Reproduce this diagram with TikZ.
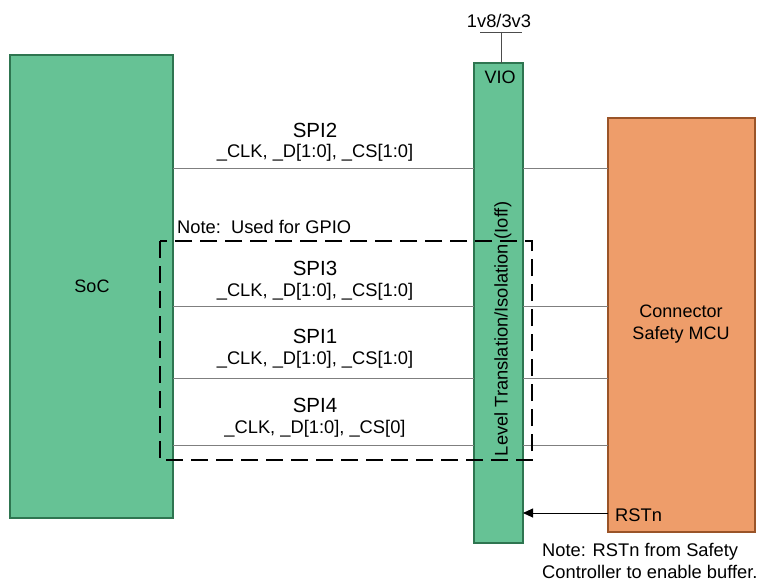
\documentclass[tikz,border=0pt]{standalone}
\usepackage{fontspec}
\setmainfont{Liberation Sans}
\usetikzlibrary{arrows.meta}
\definecolor{boxgreen}{HTML}{66C295}
\definecolor{edgegreen}{HTML}{2E7550}
\definecolor{boxorange}{HTML}{EE9D6A}
\definecolor{edgebrown}{HTML}{9A5428}
\definecolor{wire}{HTML}{7F7F7F}
\tikzset{
  greenbox/.style={draw=edgegreen, fill=boxgreen, line width=1.6pt, inner sep=0pt},
  orangebox/.style={draw=edgebrown, fill=boxorange, line width=1.6pt, inner sep=0pt},
  sig/.style={draw=wire, line width=0.8pt},
  big/.style={font=\fontsize{20.5}{23}\selectfont, inner sep=0pt},
  mid/.style={font=\fontsize{18}{22}\selectfont, inner sep=0pt},
  small/.style={font=\fontsize{18.3}{21.5}\selectfont, inner sep=0pt},
  gpio/.style={draw=black, line width=2.2pt, dash pattern=on 17pt off 8pt},
}
\begin{document}
\begin{tikzpicture}[x=1pt,y=-1pt]
\useasboundingbox (0,0) rectangle (762,583);
% boxes
\path[greenbox] (10,55) rectangle (173,518);
\node[mid] (soc) at (92,286) {SoC};
\path[greenbox] (474,63) rectangle (523,543);
\node[mid] (vio) at (500,77) {VIO};
\node[small, rotate=90] (lt) at (503,329) {Level Translation/Isolation (Ioff)};
\path[orangebox] (608,118) rectangle (755,532);
\node[mid, align=center] (mcu) at (681,324) {Connector\\Safety MCU};
% supply
\node[small] (sup) at (499,21) {1v8/3v3};
\coordinate (supl) at (480,32);
\coordinate (supr) at (522,32);
\coordinate (supm) at (501,32);
\coordinate (viotop) at (501,63);
\draw[sig, draw=black!70] (supl) -- (supr);
\draw[sig, draw=black!70] (supm) -- (viotop);
% signals
\foreach \n/\y/\sy/\sub in {a/168/153/{\_CLK, \_D[1:0], \_CS[1:0]},
                            b/306/292/{\_CLK, \_D[1:0], \_CS[1:0]},
                            c/378/360/{\_CLK, \_D[1:0], \_CS[1:0]},
                            d/445/429/{\_CLK, \_D[1:0], \_CS[0]}}{
  \coordinate (s\n1) at (173,\y);
  \coordinate (s\n2) at (474,\y);
  \coordinate (s\n3) at (523,\y);
  \coordinate (s\n4) at (608,\y);
  \draw[sig] (s\n1) -- (s\n2);
  \draw[sig] (s\n3) -- (s\n4);
  \node[small] (sub\n) at (315,\sy) {\sub};
}
\node[big] (spi2) at (315,130) {SPI2};
\node[big] (spi3) at (315,268) {SPI3};
\node[big] (spi1) at (315,336) {SPI1};
\node[big] (spi4) at (315,405) {SPI4};
% GPIO note
\node[small, anchor=west] (gnote) at (177,227) {Note:\ \ Used for GPIO};
\draw[gpio] (160,241) rectangle (532,460);
% reset
\coordinate (rsts) at (608,513);
\coordinate (rste) at (523,513);
\draw[-{Triangle[length=10pt,width=9pt]}, line width=0.9pt] (rsts) -- (rste);
\node[small, anchor=west] (rstn) at (615,515) {RSTn};
\node[small, anchor=west, align=left] (rnote) at (542,561) {Note: RSTn from Safety\\Controller to enable buffer.};
\end{tikzpicture}
\end{document}
